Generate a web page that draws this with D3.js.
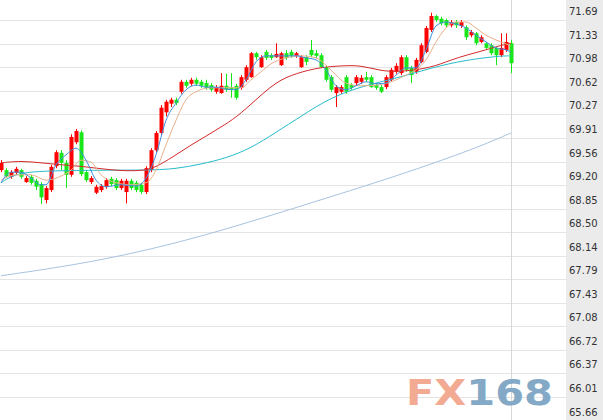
<!DOCTYPE html>
<html><head><meta charset="utf-8">
<script src="https://cdn.jsdelivr.net/npm/d3@7/dist/d3.min.js"></script>
<style>html,body{margin:0;padding:0;background:#fff;overflow:hidden}</style>
</head><body><svg id="c" width="603" height="420"></svg>
<script>
// Price axis tick labels
const tickLabels = ["71.69","71.33","70.98","70.62","70.27","69.91","69.56","69.20","68.85","68.50","68.14","67.79","67.43","67.08","66.72","66.37","66.01","65.66"];
// Candles: open, close, high, low
const opens  = [69.43,69.43,69.33,69.39,69.43,69.25,69.33,69.27,69.22,68.98,69.13,69.49,69.69,69.54,69.36,69.85,70.00,69.40,69.25,69.09,69.13,69.18,69.30,69.28,69.16,69.10,69.27,69.24,69.21,69.10,69.43,69.73,69.99,70.30,70.43,70.49,70.61,70.76,70.73,70.79,70.76,70.74,70.71,70.61,70.59,70.70,70.68,70.70,70.67,70.79,70.83,71.19,70.98,71.21,71.16,71.13,71.01,71.19,71.21,71.15,70.98,71.13,71.24,71.19,71.16,70.98,70.83,70.59,70.61,70.83,70.71,70.74,70.76,70.83,70.83,70.71,70.68,70.68,70.79,70.91,70.89,71.13,70.97,70.91,71.06,71.21,71.54,71.75,71.71,71.69,71.61,71.66,71.60,71.58,71.46,71.49,71.36,71.34,71.31,71.27,71.16,71.24,71.34];
const closes = [69.54,69.34,69.40,69.45,69.33,69.31,69.24,69.18,69.02,69.16,69.48,69.70,69.54,69.36,69.93,70.02,69.37,69.28,69.31,69.18,69.19,69.28,69.22,69.16,69.27,69.27,69.16,69.13,69.10,69.46,69.73,69.99,70.37,70.46,70.49,70.44,70.76,70.70,70.79,70.73,70.70,70.67,70.64,70.68,70.70,70.64,70.64,70.52,70.83,70.98,71.19,71.13,71.13,71.12,71.12,71.18,71.19,71.12,71.15,71.19,71.13,71.06,71.16,71.15,70.98,70.79,70.64,70.68,70.68,70.61,70.67,70.83,70.82,70.79,70.68,70.67,70.61,70.83,70.94,71.00,71.13,70.94,70.86,71.09,71.31,71.57,71.75,71.69,71.64,71.61,71.66,71.61,71.66,71.43,71.51,71.34,71.43,71.27,71.19,71.16,71.27,71.36,71.04];
const highs  = [69.58,69.46,69.43,69.48,69.45,69.34,69.36,69.30,69.25,69.19,69.51,69.73,69.73,69.58,69.97,70.05,70.03,69.43,69.34,69.21,69.22,69.31,69.33,69.31,69.30,69.30,69.30,69.27,69.24,69.49,69.76,70.02,70.41,70.49,70.52,70.52,70.79,70.79,70.82,70.82,70.79,70.79,70.74,70.71,70.89,70.88,70.89,70.73,70.86,71.01,71.21,71.21,71.16,71.24,71.19,71.34,71.21,71.24,71.24,71.21,71.16,71.16,71.39,71.24,71.19,71.01,70.86,70.71,70.71,70.86,70.74,70.86,70.86,70.91,70.86,70.74,70.71,70.86,70.97,71.04,71.16,71.16,71.00,71.12,71.34,71.60,71.80,71.77,71.74,71.71,71.69,71.69,71.69,71.61,71.54,71.51,71.46,71.36,71.34,71.28,71.49,71.49,71.39];
const lows   = [69.40,69.31,69.30,69.36,69.30,69.24,69.21,69.13,68.92,68.93,69.10,69.46,69.43,69.16,69.33,69.82,69.34,69.25,69.22,69.07,69.10,69.15,69.19,69.13,69.13,68.93,69.13,69.10,69.07,69.07,69.40,69.70,69.96,70.24,70.38,70.41,70.58,70.67,70.70,70.70,70.67,70.64,70.61,70.58,70.58,70.61,70.52,70.49,70.64,70.76,70.82,71.09,70.97,71.09,71.09,71.12,71.00,71.09,71.12,71.12,70.97,71.01,71.13,71.12,70.97,70.76,70.61,70.38,70.58,70.58,70.64,70.71,70.73,70.76,70.67,70.64,70.59,70.65,70.76,70.88,70.86,70.91,70.74,70.88,71.04,71.19,71.51,71.66,71.61,71.58,71.58,71.57,71.57,71.39,71.43,71.31,71.34,71.24,71.16,71.01,71.13,71.21,70.89];
// Moving averages: [candle index, value]
const ma5 = [[0,69.24],[2,69.40],[4,69.40],[6,69.31],[8,69.21],[9,69.21],[11,69.51],[13,69.66],[15,69.76],[17,69.58],[19,69.28],[21,69.18],[24,69.21],[27,69.19],[29,69.31],[31,69.66],[33,70.18],[35,70.44],[37,70.64],[39,70.71],[41,70.68],[43,70.68],[45,70.65],[47,70.64],[49,70.79],[51,71.06],[53,71.15],[56,71.15],[59,71.15],[61,71.12],[63,71.09],[65,70.94],[67,70.70],[69,70.64],[71,70.70],[73,70.76],[75,70.73],[77,70.74],[79,70.86],[81,70.97],[83,70.97],[85,71.24],[87,71.60],[89,71.66],[91,71.63],[93,71.57],[95,71.46],[97,71.36],[99,71.27],[101,71.24],[102,71.21]];
const ma10 = [[0,69.28],[3,69.36],[6,69.36],[9,69.28],[12,69.34],[14,69.43],[16,69.58],[18,69.55],[20,69.36],[23,69.24],[26,69.21],[29,69.24],[31,69.43],[33,69.81],[35,70.18],[37,70.49],[39,70.61],[42,70.67],[45,70.67],[48,70.67],[50,70.79],[52,70.91],[54,71.03],[57,71.12],[60,71.15],[63,71.12],[65,71.01],[67,70.86],[69,70.74],[72,70.70],[75,70.71],[78,70.76],[81,70.86],[83,70.94],[85,71.09],[87,71.36],[89,71.57],[91,71.66],[93,71.66],[95,71.57],[97,71.46],[99,71.39],[101,71.33],[102,71.30]];
const ma20 = [[0,69.54],[4,69.57],[8,69.54],[12,69.51],[16,69.49],[20,69.45],[24,69.42],[28,69.42],[30,69.45],[32,69.52],[35,69.66],[38,69.81],[41,69.94],[44,70.08],[47,70.22],[51,70.49],[55,70.76],[59,70.89],[64,70.98],[68,71.00],[72,71.01],[76,70.92],[80,70.91],[86,70.97],[90,71.09],[93,71.16],[97,71.24],[100,71.31],[102,71.34]];
const ma60 = [[0,69.24],[2,69.34],[5,69.40],[10,69.42],[20,69.43],[30,69.43],[35,69.45],[40,69.52],[45,69.61],[50,69.76],[55,70.00],[60,70.24],[66,70.53],[73,70.71],[80,70.83],[86,70.97],[93,71.09],[100,71.15],[102,71.15]];
const ma120 = [[0,67.84],[20,68.06],[40,68.42],[60,68.89],[80,69.36],[95,69.76],[102,69.99]];

const svg = d3.select("#c");
const W = 603, H = 420, panelX = 566;
const x = d3.scaleLinear().domain([0, opens.length - 1]).range([1, 511]);
const y = d3.scaleLinear().domain([65.66, 71.69]).range([420.6, 20]);
const ticks = tickLabels.map(Number);

// grey label panel
svg.append("rect").attr("x", panelX).attr("y", 0).attr("width", W - panelX).attr("height", H).attr("fill", "#ebebeb");
// gridlines
svg.append("g").selectAll("line").data(ticks).join("line")
  .attr("x1", 0).attr("x2", panelX).attr("y1", d => Math.round(y(d)) + 0.5).attr("y2", d => Math.round(y(d)) + 0.5)
  .attr("stroke", "#e4e4e4").attr("stroke-width", 1);
// labels
svg.append("g").selectAll("text").data(tickLabels).join("text")
  .attr("x", 569).attr("y", d => y(+d) - 5)
  .attr("font-family", "DejaVu Sans, Verdana, sans-serif").attr("font-size", 10).attr("fill", "#333")
  .text(d => d);
// current vertical line
svg.append("line").attr("x1", Math.round(x(opens.length - 1)) + 0.5).attr("x2", Math.round(x(opens.length - 1)) + 0.5)
  .attr("y1", 0).attr("y2", H).attr("stroke", "#d8d8d8");

// watermark
const wm = svg.append("text").attr("x", 406).attr("y", 405)
  .attr("font-family", "DejaVu Sans, sans-serif").attr("font-weight", "bold").attr("font-size", 35)
  .attr("textLength", 147).attr("lengthAdjust", "spacingAndGlyphs");
wm.append("tspan").attr("fill", "#f2aa92").text("FX");
wm.append("tspan").attr("fill", "#84a9c6").text("168");

// MA lines
const fast = d3.line().x(d => x(d[0])).y(d => y(d[1])).curve(d3.curveMonotoneX);
const slow = d3.line().x(d => x(d[0])).y(d => y(d[1])).curve(d3.curveBasis);
const mas = [[ma120, "#a7c3de", slow], [ma60, "#26bccb", slow], [ma20, "#d42a2a", slow], [ma10, "#e8b08a", fast], [ma5, "#3d8ede", fast]];

// candles
const data = opens.map((o, i) => ({i, o, c: closes[i], h: highs[i], l: lows[i]}));
const col = d => d.c >= d.o ? "#ff0000" : "#19e619";
const g = svg.append("g");
g.selectAll("line").data(data).join("line")
  .attr("x1", d => Math.round(x(d.i)) + 0.5).attr("x2", d => Math.round(x(d.i)) + 0.5)
  .attr("y1", d => y(d.h)).attr("y2", d => y(d.l)).attr("stroke", col);
g.selectAll("rect").data(data).join("rect")
  .attr("x", d => Math.round(x(d.i)) - 1.5).attr("width", 4)
  .attr("y", d => y(Math.max(d.o, d.c))).attr("height", d => Math.max(1, Math.abs(y(d.o) - y(d.c))))
  .attr("fill", col);

svg.append("g").selectAll("path").data(mas).join("path")
  .attr("d", d => d[2](d[0])).attr("fill", "none").attr("stroke", d => d[1]).attr("stroke-width", 1);
</script></body></html>
